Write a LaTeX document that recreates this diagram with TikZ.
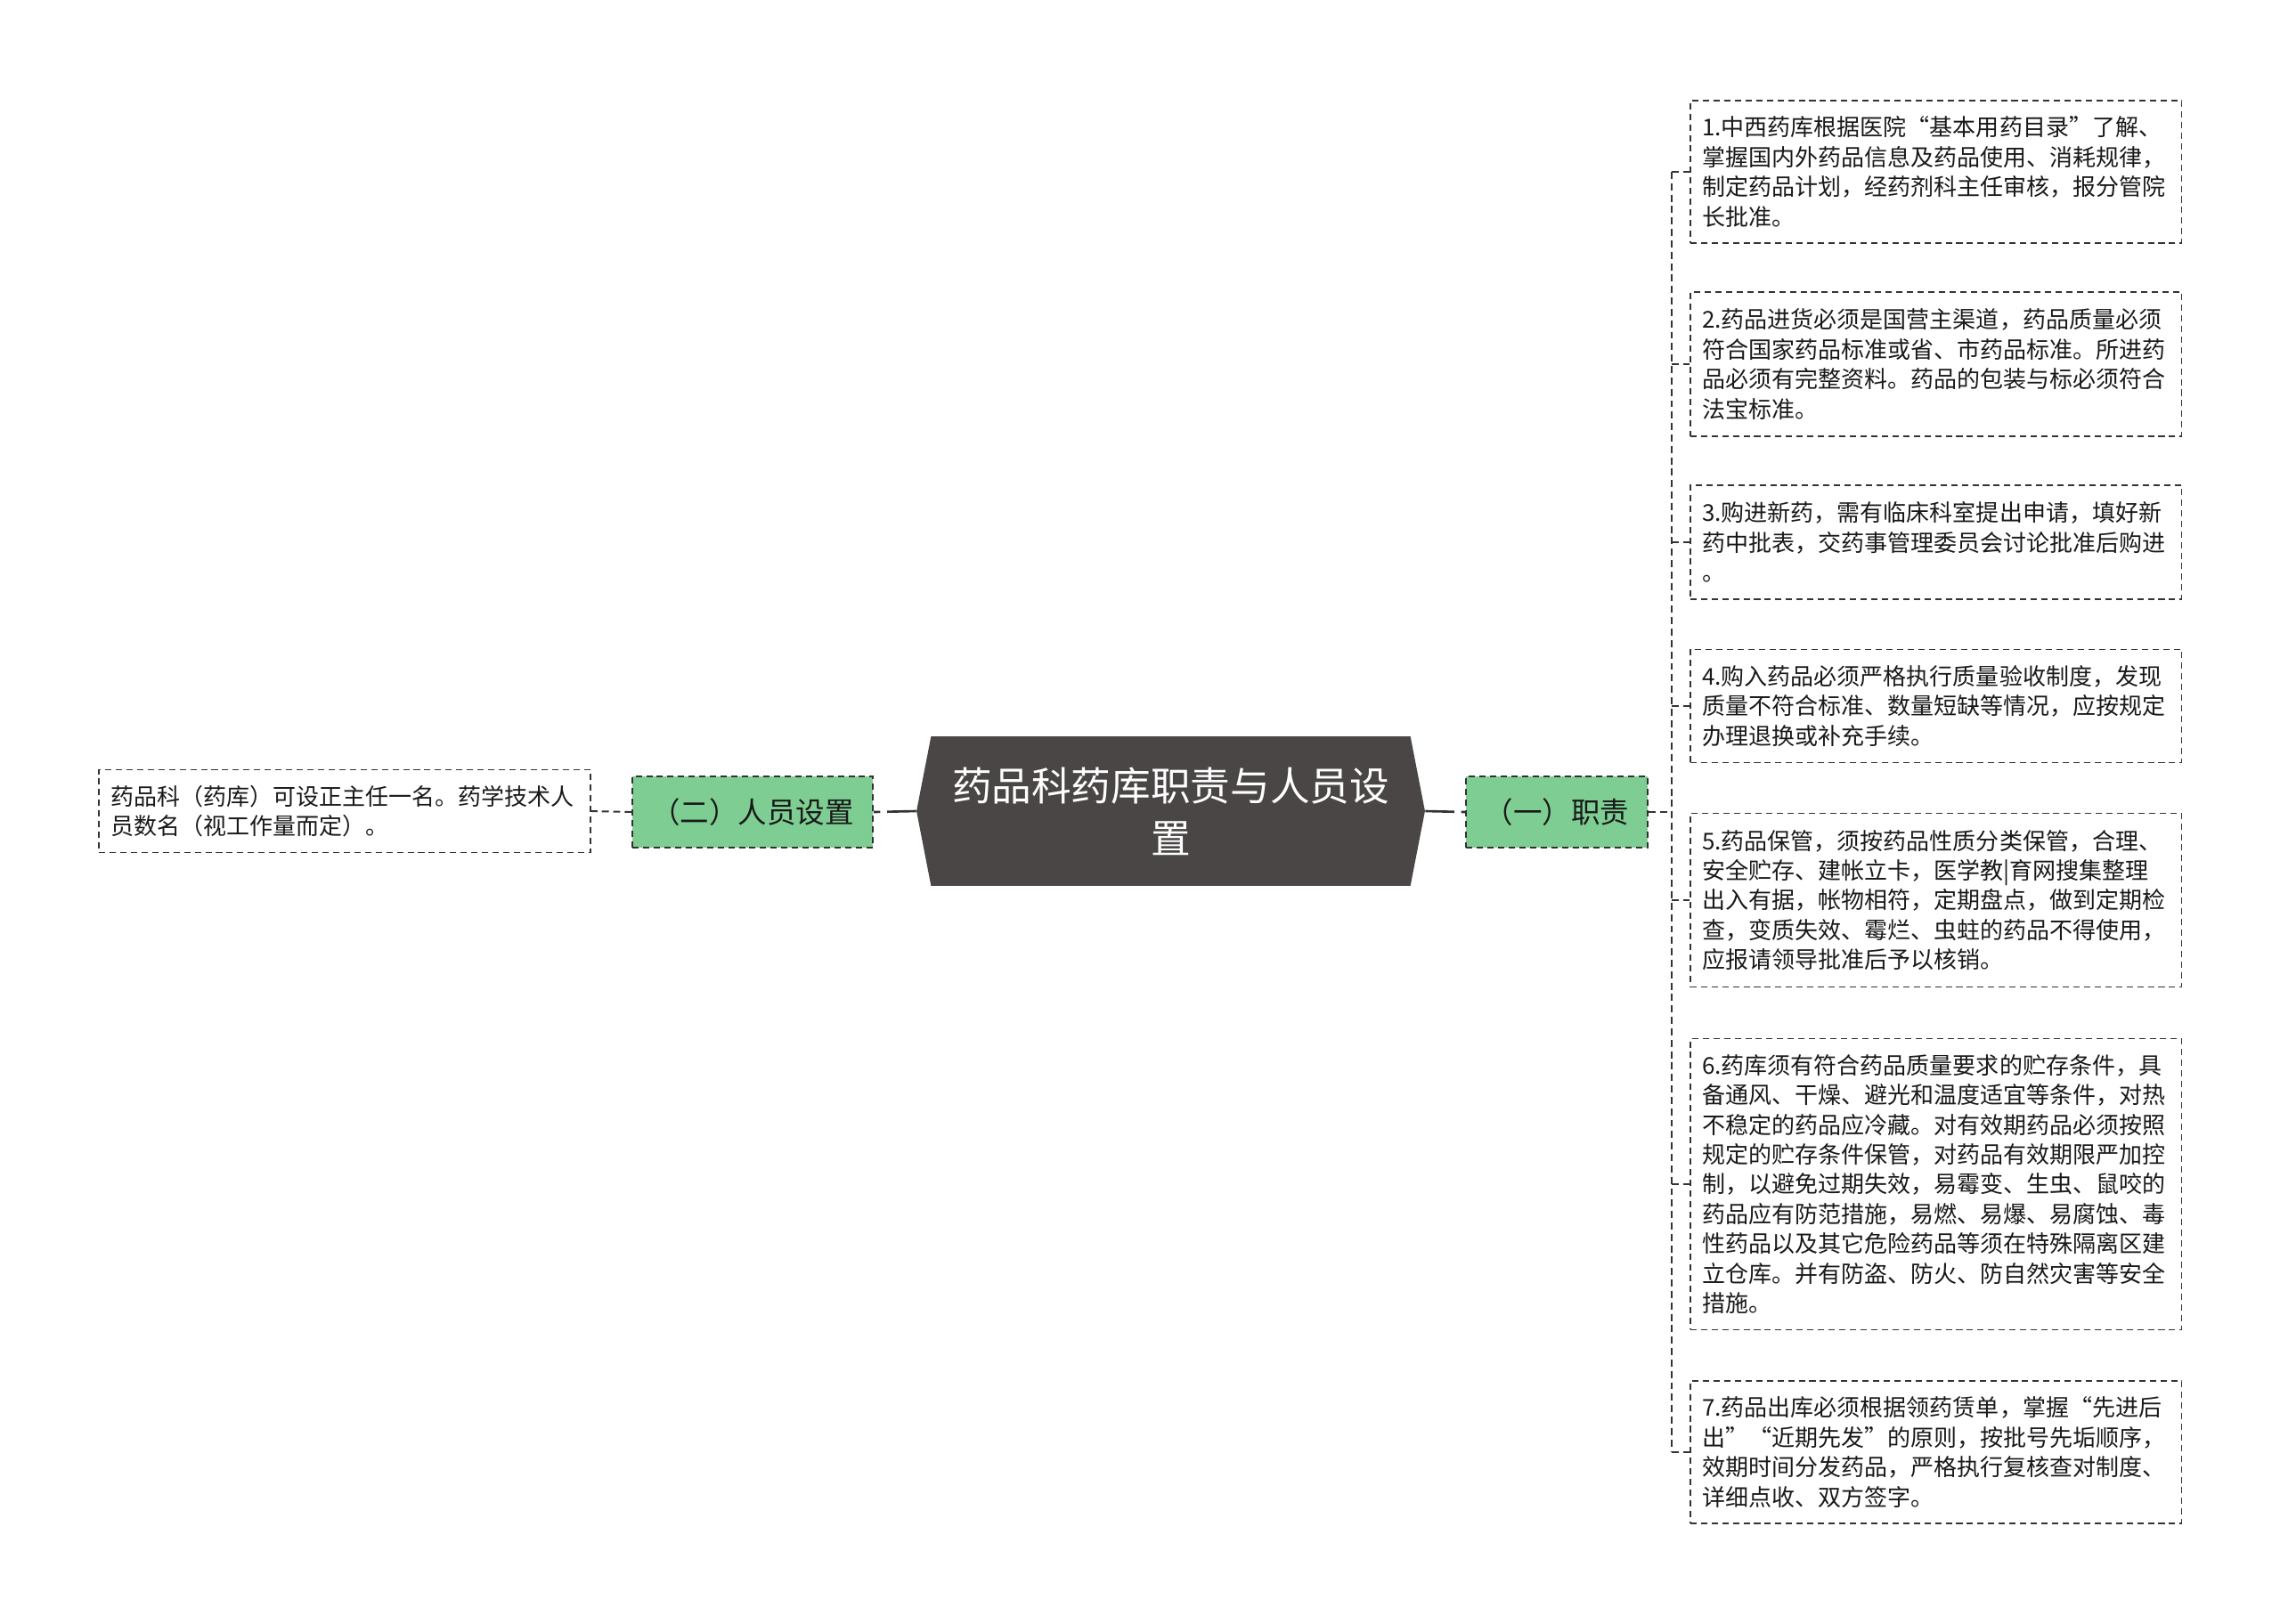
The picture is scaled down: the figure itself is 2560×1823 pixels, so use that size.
\documentclass[tikz,border=0pt]{standalone}
\usepackage{fontspec}
\setmainfont{Noto Sans CJK SC}
\usetikzlibrary{shapes.symbols}
\definecolor{rootgray}{HTML}{4A4646}
\definecolor{leafgreen}{HTML}{7ECD93}
\definecolor{linegray}{HTML}{333333}
\newcommand{\leafw}{10.5cm}
\newcommand{\leafx}{1897}

\begin{document}
\begin{tikzpicture}[x=0.02cm,y=-0.02cm]
            %\draw[help lines] (0,0) grid (2560,1823);
            \useasboundingbox (0,0) rectangle (2560,1823);
            \tikzset{
                root/.style = {signal, signal to=west and east, signal pointer angle=158,
                    fill=rootgray, text=white, minimum width=11.42cm, minimum height=3.36cm,
                    inner sep=0pt, align=center, font=\fontsize{25.4pt}{33.5pt}\selectfont},
                branch/.style = {draw=linegray, line width=0.9pt, dash pattern=on 4pt off 2.8pt,
                    fill=leafgreen, minimum height=1.6cm, inner sep=0pt,
                    font=\fontsize{18.5pt}{22pt}\selectfont, text=black!90},
                leaf/.style = {draw=linegray, line width=0.9pt, dash pattern=on 4pt off 2.8pt,
                    text width=\leafw, inner xsep=0.27cm, inner ysep=0pt, align=left,
                    font=\fontsize{14.8pt}{19pt}\selectfont, text=black!90},
                link/.style = {draw=linegray, line width=1.1pt, dash pattern=on 4.5pt off 2.8pt},
                stem/.style = {draw=linegray, line width=1.5pt, dash pattern=on 18.5pt off 4.5pt}
            }
            \node[root] (root) at (1314.5,911) {药品科药库职责与人员设\\置};
            \node[branch, minimum width=4.08cm] (duty) at (1748,912) {（一）职责};
            \node[branch, minimum width=5.4cm] (staff) at (845,912) {（二）人员设置};
            \node[leaf, minimum height=1.86cm] (s1) at (387,911) {药品科（药库）可设正主任一名。药学技术人\\员数名（视工作量而定）。};
            \draw[stem] (root.east) -- (duty.west);
            \draw[stem] (root.west) -- (staff.east);
            \draw[link] (staff.west) -- (s1.east);
            \foreach \i/\y/\h/\txt in {
                1/193/3.2/{1.中西药库根据医院“基本用药目录”了解、\\掌握国内外药品信息及药品使用、消耗规律，\\制定药品计划，经药剂科主任审核，报分管院\\长批准。},
                2/409/3.24/{2.药品进货必须是国营主渠道，药品质量必须\\符合国家药品标准或省、市药品标准。所进药\\品必须有完整资料。药品的包装与标必须符合\\法宝标准。},
                3/609/2.56/{3.购进新药，需有临床科室提出申请，填好新\\药中批表，交药事管理委员会讨论批准后购进\\。},
                4/793/2.54/{4.购入药品必须严格执行质量验收制度，发现\\质量不符合标准、数量短缺等情况，应按规定\\办理退换或补充手续。},
                5/1011/3.9/{5.药品保管，须按药品性质分类保管，合理、\\安全贮存、建帐立卡，医学教|育网搜集整理\\出入有据，帐物相符，定期盘点，做到定期检\\查，变质失效、霉烂、虫蛀的药品不得使用，\\应报请领导批准后予以核销。},
                6/1330/6.54/{6.药库须有符合药品质量要求的贮存条件，具\\备通风、干燥、避光和温度适宜等条件，对热\\不稳定的药品应冷藏。对有效期药品必须按照\\规定的贮存条件保管，对药品有效期限严加控\\制，以避免过期失效，易霉变、生虫、鼠咬的\\药品应有防范措施，易燃、易爆、易腐蚀、毒\\性药品以及其它危险药品等须在特殊隔离区建\\立仓库。并有防盗、防火、防自然灾害等安全\\措施。},
                7/1631/3.2/{7.药品出库必须根据领药赁单，掌握“先进后\\出”“近期先发”的原则，按批号先垢顺序，\\效期时间分发药品，严格执行复核查对制度、\\详细点收、双方签字。}} {
                \node[leaf, anchor=west, minimum height=\h cm] (d\i) at (\leafx,\y) {\txt};
            }
            \draw[link] (duty.east) -- ++(26,0) coordinate (fork);
            \draw[link] (fork |- d1.west) -- (fork |- d7.west);
            \foreach \i in {1,...,7} {
                \draw[link] (fork |- d\i.west) -- (d\i.west);
            }
\end{tikzpicture}
\end{document}
